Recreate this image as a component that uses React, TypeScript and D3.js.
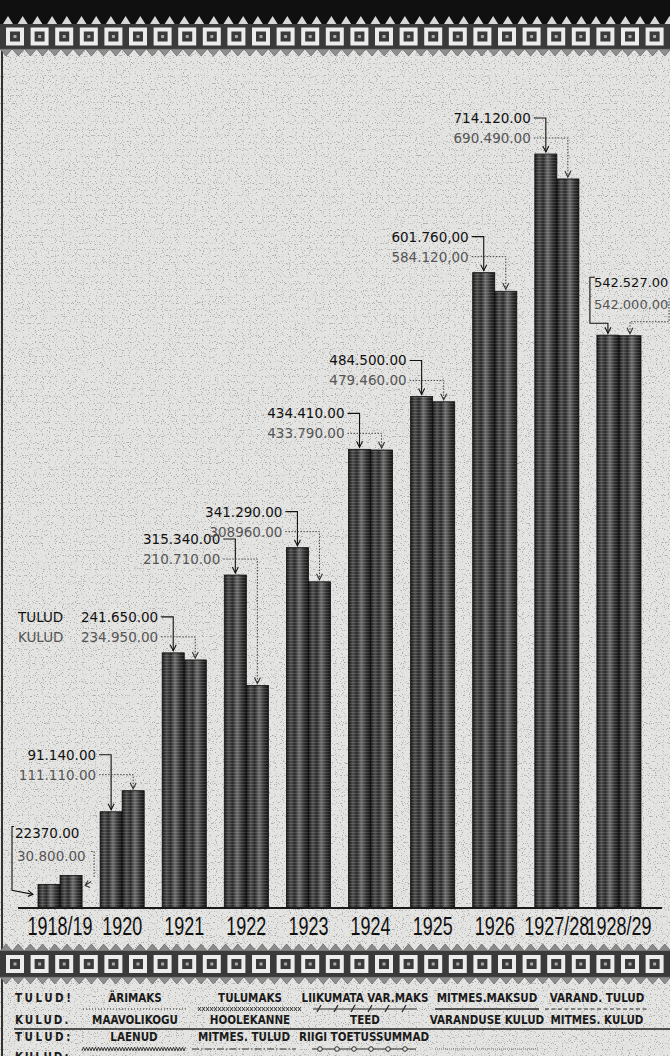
import React from 'react';
import * as d3 from 'd3';

// eelarve 1918/19 - 1928/29, tulud ja kulud
const years = ['1918/19', '1920', '1921', '1922', '1923', '1924', '1925', '1926', '1927/28', '1928/29'];
const tulud = [22370, 91140, 241650, 315340, 341290, 434410, 484500, 601760, 714120, 542527];
const kulud = [30800, 111110, 234950, 210710, 308960, 433790, 479460, 584120, 690490, 542000];
const tuludLabels = ['22370.00', '91.140.00', '241.650.00', '315.340.00', '341.290.00', '434.410.00', '484.500.00', '601.760,00', '714.120.00', '542.527.00'];
const kuludLabels = ['30.800.00', '111.110.00', '234.950.00', '210.710.00', '308960.00', '433.790.00', '479.460.00', '584.120,00', '690.490.00', '542.000.00'];

const legendTulud1 = ['ÄRIMAKS', 'TULUMAKS', 'LIIKUMATA VAR.MAKS', 'MITMES.MAKSUD', 'VARAND. TULUD'];
const legendKulud1 = ['MAAVOLIKOGU', 'HOOLEKANNE', 'TEED', 'VARANDUSE KULUD', 'MITMES. KULUD'];
const legendTulud2 = ['LAENUD', 'MITMES. TULUD', 'RIIGI TOETUSSUMMAD', ''];
const legendStyles1 = ['dots', 'crosses', 'ticks', 'solid', 'dashed'];
const legendStyles2 = ['wavy', 'dashdot', 'rings', 'finedots'];

const W = 670;
const H = 1056;
const baseY = 908;
const topY = 154;
const paper = '#e4e4e2';
const numFont = '"DejaVu Sans", sans-serif';
const capFont = '"DejaVu Sans Condensed", "DejaVu Sans", sans-serif';

const x0 = d3.scaleBand().domain(years).range([29, 650]).paddingInner(0.29).paddingOuter(0.145);
const x1 = d3.scaleBand().domain(['tulud', 'kulud']).range([0, x0.bandwidth()]);
const y = d3.scaleLinear().domain([0, d3.max(tulud) as number]).range([baseY, topY]);
const bw = x1.bandwidth();

const arrowDown = (x: number, yy: number) => `M${x - 3},${yy - 6}L${x},${yy}L${x + 3},${yy - 6}`;

function Band({ top, bottom, headBlack }: { top: number; bottom: number; headBlack: boolean }) {
  const squares = d3.range(28);
  const teeth = d3.range(0, W + 12, 12.2);
  const tri = d3.range(0, W + 15, 14.7);
  return (
    <g>
      {headBlack && <rect x={0} y={0} width={W} height={top} fill="#101010" />}
      {headBlack &&
        tri.map((t, i) => (
          <path key={'p' + i} d={`M${t + 3},${top}L${t + 8},${top - 8}L${t + 13},${top}Z`} fill="#d8d8d8" />
        ))}
      {!headBlack &&
        teeth.map((t, i) => (
          <path key={'u' + i} d={`M${t},${top}L${t + 6},${top - 7}L${t + 12},${top}Z`} fill="#8a8a8a" stroke="#555" strokeWidth={0.6} />
        ))}
      <rect x={0} y={top} width={W} height={bottom - top} fill="#3a3a3a" />
      {squares.map((s) => {
        const sx = 6 + s * 24.6;
        const sy = top + (bottom - top - 18) / 2;
        return (
          <g key={s}>
            <rect x={sx} y={sy} width={18} height={18} fill="#ececec" />
            <rect x={sx + 4} y={sy + 4} width={10} height={10} fill="#3a3a3a" />
            <rect x={sx + 7.5} y={sy + 7.5} width={3} height={3} fill="#aaa" />
          </g>
        );
      })}
      {teeth.map((t, i) => (
        <path key={'d' + i} d={`M${t},${bottom}L${t + 6},${bottom + 7}L${t + 12},${bottom}Z`} fill="#8f8f8f" stroke="#555" strokeWidth={0.6} />
      ))}
    </g>
  );
}

function LegendLine({ kind, xa, xb, yy }: { kind: string; xa: number; xb: number; yy: number }) {
  const c = '#2a2a2a';
  if (kind === 'dots') return <line x1={xa} x2={xb} y1={yy} y2={yy} stroke={c} strokeWidth={1.2} strokeDasharray="1 2" />;
  if (kind === 'solid') return <line x1={xa} x2={xb} y1={yy} y2={yy} stroke={c} strokeWidth={1.3} />;
  if (kind === 'dashed') return <line x1={xa} x2={xb} y1={yy} y2={yy} stroke={c} strokeWidth={1.2} strokeDasharray="4 2.5" />;
  if (kind === 'dashdot') return <line x1={xa} x2={xb} y1={yy} y2={yy} stroke={c} strokeWidth={1.1} strokeDasharray="7 2 1.5 2" />;
  if (kind === 'finedots') return <line x1={xa} x2={xb} y1={yy} y2={yy} stroke="#666" strokeWidth={0.9} strokeDasharray="1 1" />;
  if (kind === 'crosses') {
    const d = d3.range(xa, xb, 4).map((x) => `M${x},${yy - 2}l3,4M${x + 3},${yy - 2}l-3,4`).join('');
    return <path d={d} stroke={c} strokeWidth={0.9} fill="none" />;
  }
  if (kind === 'wavy') {
    const d = 'M' + d3.range(xa, xb, 1.5).map((x, i) => `${x},${yy + (i % 2 ? -1.8 : 1.8)}`).join('L');
    return <path d={d} stroke={c} strokeWidth={0.9} fill="none" />;
  }
  if (kind === 'ticks') {
    const d = d3.range(xa + 6, xb, 17).map((x) => `M${x - 2},${yy + 3}l4,-7`).join('');
    return (
      <g>
        <line x1={xa} x2={xb} y1={yy} y2={yy} stroke={c} strokeWidth={1} />
        <path d={d} stroke={c} strokeWidth={1.3} fill="none" />
      </g>
    );
  }
  if (kind === 'rings') {
    return (
      <g>
        <line x1={xa} x2={xb} y1={yy} y2={yy} stroke={c} strokeWidth={1} />
        {d3.range(xa + 8, xb, 17).map((x, i) => (
          <circle key={i} cx={x} cy={yy} r={2.3} fill={paper} stroke={c} strokeWidth={1} />
        ))}
      </g>
    );
  }
  return null;
}

export default function App() {
  const n = years.length;
  const cols1 = [135, 250, 365, 487, 597];
  const cols2 = [134, 244, 364, 487];

  return (
    <svg width={W} height={H} style={{ position: 'absolute', left: 0, top: 0, display: 'block' }}>
      <defs>
        <linearGradient id="barGrad" x1="0" x2="1" y1="0" y2="0">
          <stop offset="0" stopColor="#141414" />
          <stop offset="0.2" stopColor="#505050" />
          <stop offset="0.38" stopColor="#282828" />
          <stop offset="0.58" stopColor="#6e6e6e" />
          <stop offset="0.8" stopColor="#333" />
          <stop offset="1" stopColor="#121212" />
        </linearGradient>
        <pattern id="coins" width={4} height={3} patternUnits="userSpaceOnUse">
          <rect x={0} y={1} width={4} height={1} fill="#fff" opacity={0.14} />
        </pattern>
        <filter id="grain" x="0" y="0" width="100%" height="100%">
          <feTurbulence type="fractalNoise" baseFrequency="0.85" numOctaves={1} seed={7} />
          <feColorMatrix type="matrix" values="0 0 0 0 0  0 0 0 0 0  0 0 0 0 0  -8 0 0 0 3.3" />
        </filter>
      </defs>

      <rect x={0} y={0} width={W} height={H} fill={paper} />
      <rect x={0} y={0} width={W} height={H} filter="url(#grain)" opacity={0.25} />
      <line x1={2} x2={2} y1={0} y2={H} stroke="#333" strokeWidth={2} />

      <Band top={24} bottom={49} headBlack={true} />
      <Band top={951} bottom={977} headBlack={false} />

      {/* tulpade paarid */}
      {years.map((yr, i) => {
        const bx = x0(yr) as number;
        const cx = bx + x0.bandwidth() / 2;
        return (
          <g key={yr}>
            {[
              ['tulud', tulud[i]],
              ['kulud', kulud[i]],
            ].map(([k, v]) => {
              const xx = bx + (x1(k as string) as number);
              const yy = y(v as number);
              return (
                <g key={k as string}>
                  <rect x={xx} y={yy} width={bw} height={baseY - yy} fill="url(#barGrad)" />
                  <rect x={xx} y={yy} width={bw} height={baseY - yy} fill="url(#coins)" stroke="#111" strokeWidth={0.8} />
                </g>
              );
            })}
            <text
              transform={`translate(${cx},935) scale(0.72,1)`}
              textAnchor="middle"
              fontFamily='"Liberation Sans", sans-serif'
              fontSize={25}
              fill="#111"
            >
              {yr}
            </text>
          </g>
        );
      })}
      <line x1={18} x2={662} y1={baseY} y2={baseY} stroke="#1a1a1a" strokeWidth={2} />

      {/* väärtuste sildid ja nooled */}
      {years.map((yr, i) => {
        const bx = x0(yr) as number;
        const xt = bx + (x1('tulud') as number) + bw / 2;
        const xk = bx + (x1('kulud') as number) + bw / 2;
        const yt = y(tulud[i]);
        const yk = y(kulud[i]);
        const top = Math.min(yt, yk);
        const tStyle = { fontFamily: numFont, fontSize: 13.5, fill: '#111' };
        const kStyle = { fontFamily: numFont, fontSize: 13.5, fill: '#555' };

        if (i === 0) {
          const c1 = top - 42;
          const c2 = c1 + 23;
          const lx = bx - 23;
          return (
            <g key={yr}>
              <text x={lx} y={c1 + 5} {...tStyle}>{tuludLabels[i]}</text>
              <text x={lx + 2} y={c2 + 5} {...kStyle}>{kuludLabels[i]}</text>
              <path d={`M${lx - 1},${c1 - 7}H${lx - 3}V${yt + 6}L${bx - 5},${yt + 10}`} fill="none" stroke="#111" strokeWidth={1.1} />
              <path d={`M${bx - 10},${yt + 6}L${bx - 5},${yt + 10}L${bx - 10},${yt + 12}`} fill="none" stroke="#111" strokeWidth={1.1} />
              <path d={`M${xk + bw / 2 + 9},${c2 - 5}H${xk + bw / 2 + 12}V${yk + 2}`} fill="none" stroke="#444" strokeWidth={1} strokeDasharray="1.5 1.5" />
              <path d={`M${xk + bw / 2 + 9},${yk + 6}L${xk + bw / 2 + 3},${yk + 10}M${xk + bw / 2 + 8},${yk + 12}L${xk + bw / 2 + 3},${yk + 10}L${xk + bw / 2 + 6},${yk + 5}`} fill="none" stroke="#333" strokeWidth={1.1} />
            </g>
          );
        }

        if (i === n - 1) {
          const c1 = yt - 53;
          const c2 = c1 + 22;
          const lx = bx - 3;
          const s13 = { fontSize: 13 };
          return (
            <g key={yr}>
              <text x={lx} y={c1 + 5} {...tStyle} {...s13}>{tuludLabels[i]}</text>
              <text x={lx} y={c2 + 5} {...kStyle} {...s13}>{kuludLabels[i]}</text>
              <path d={`M${lx + 1},${c1 - 5}H${lx - 4}V${yt - 12}H${xt}V${yt - 2}`} fill="none" stroke="#111" strokeWidth={1.1} />
              <path d={arrowDown(xt, yt - 2)} fill="none" stroke="#111" strokeWidth={1.1} />
              <path d={`M${W - 1},${c2 - 6}V${yk - 14}H${xk}V${yk - 2}`} fill="none" stroke="#444" strokeWidth={1} strokeDasharray="1.5 1.5" />
              <path d={arrowDown(xk, yk - 2)} fill="none" stroke="#333" strokeWidth={1.1} />
            </g>
          );
        }

        const c1 = top - 36;
        const c2 = c1 + 20;
        const ax = bx - 4;
        return (
          <g key={yr}>
            {i === 2 && (
              <>
                <text x={18} y={c1 + 5} {...tStyle}>TULUD</text>
                <text x={18} y={c2 + 5} {...kStyle}>KULUD</text>
              </>
            )}
            <text x={ax} y={c1 + 5} textAnchor="end" {...tStyle}>{tuludLabels[i]}</text>
            <text x={ax} y={c2 + 5} textAnchor="end" {...kStyle}>{kuludLabels[i]}</text>
            <path d={`M${ax + 3},${c1}H${xt}V${yt - 2}`} fill="none" stroke="#111" strokeWidth={1.1} />
            <path d={arrowDown(xt, yt - 2)} fill="none" stroke="#111" strokeWidth={1.1} />
            <path d={`M${ax + 3},${c2}H${xk}V${yk - 2}`} fill="none" stroke="#444" strokeWidth={1} strokeDasharray="1.5 1.5" />
            <path d={arrowDown(xk, yk - 2)} fill="none" stroke="#333" strokeWidth={1.1} />
          </g>
        );
      })}

      {/* legend */}
      <g fontFamily={capFont} fontWeight="bold" fontSize={11.5} fill="#1a1a1a">
        <text x={15} y={1002} letterSpacing={2.5}>TULUD!</text>
        <text x={15} y={1024} letterSpacing={2}>KULUD.</text>
        <text x={15} y={1041} letterSpacing={2.5}>TULUD:</text>
        <text x={15} y={1061} letterSpacing={2}>KULUD:</text>
        {legendTulud1.map((t, i) => (
          <text key={'a' + t} x={cols1[i]} y={1002} textAnchor="middle">{t}</text>
        ))}
        {legendKulud1.map((t, i) => (
          <text key={'b' + t} x={cols1[i]} y={1024} textAnchor="middle">{t}</text>
        ))}
        {legendTulud2.map((t, i) => (
          <text key={'c' + i} x={cols2[i]} y={1041} textAnchor="middle">{t}</text>
        ))}
      </g>
      {legendStyles1.map((s, i) => (
        <LegendLine key={s} kind={s} xa={cols1[i] - 52} xb={cols1[i] + 52} yy={1009} />
      ))}
      <line x1={14} x2={W} y1={1029} y2={1029} stroke="#222" strokeWidth={1.6} />
      {legendStyles2.map((s, i) => (
        <LegendLine key={s} kind={s} xa={cols2[i] - 52} xb={cols2[i] + 52} yy={1049} />
      ))}
    </svg>
  );
}
